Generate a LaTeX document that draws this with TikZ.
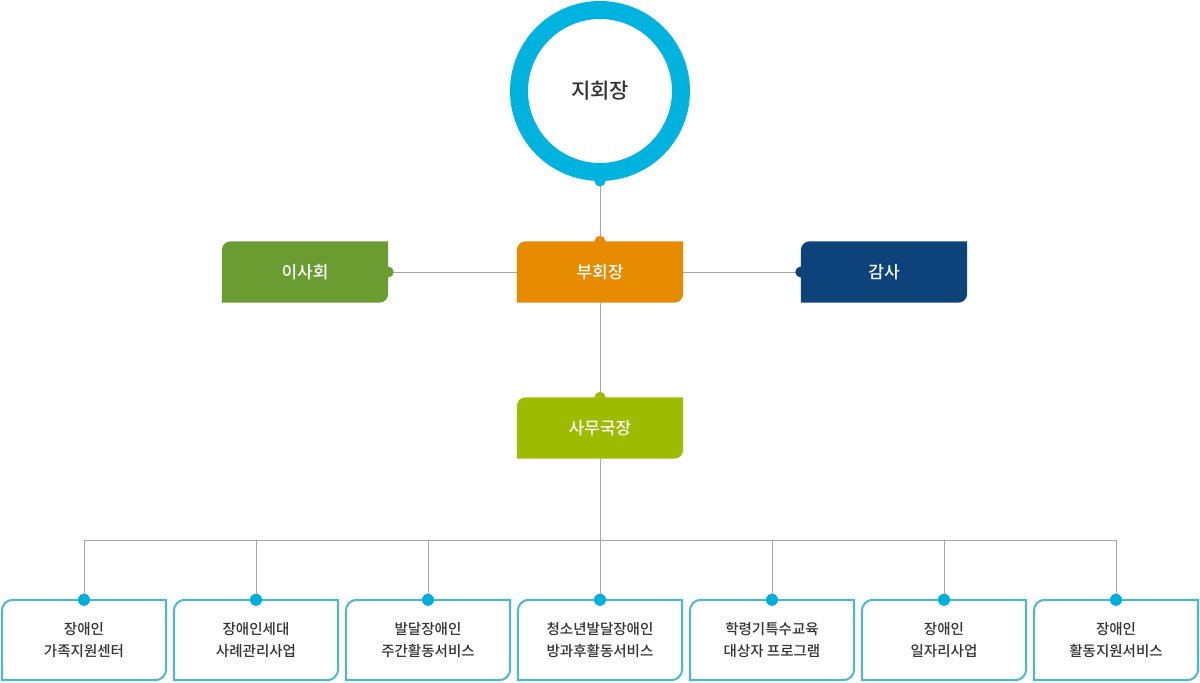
\documentclass[tikz,border=0pt]{standalone}
\usepackage{fontspec}
\usepackage{tikz}
\usetikzlibrary{backgrounds}
\newfontfamily\kr{Noto Sans CJK KR Medium}
\newfontfamily\krbold{Noto Sans CJK KR Bold}
\definecolor{ringblue}{HTML}{00B3DE}
\definecolor{dotblue}{HTML}{00B0DC}
\definecolor{boxline}{HTML}{4BB8D2}
\definecolor{vicecol}{HTML}{E68A00}
\definecolor{boardcol}{HTML}{6A9C31}
\definecolor{auditcol}{HTML}{0D437A}
\definecolor{officecol}{HTML}{9DBC00}
\definecolor{linkgray}{HTML}{A6A6A6}
\definecolor{textgray}{HTML}{333333}

% box with rounded top left and bottom right corners (#3 radius, #4 handle)
\newcommand{\leafbox}[4]{%
  \path[#2] ([yshift=-#3]#1.north west) .. controls ([yshift=-#4]#1.north west) and ([xshift=#4]#1.north west) .. ([xshift=#3]#1.north west)
    -- (#1.north east) -- ([yshift=#3]#1.south east) .. controls ([yshift=#4]#1.south east) and ([xshift=-#4]#1.south east) .. ([xshift=-#3]#1.south east)
    -- (#1.south west) -- cycle;}

\begin{document}
\begin{tikzpicture}[x=1pt,y=-1pt,
    head/.style={minimum width=166pt, minimum height=61pt, inner sep=0pt,
      text=white, font=\kr\fontsize{17}{20}\selectfont},
    unit/.style={minimum width=164pt, minimum height=80pt, inner sep=0pt, align=center,
      text=textgray, font=\kr\fontsize{14.5}{22}\selectfont},
    link/.style={linkgray, line width=1pt}]
  \useasboundingbox (0,0) rectangle (1200,683);

  % chief
  \node[circle, draw=ringblue, line width=18pt, minimum size=162pt, inner sep=0pt,
    text=textgray, font=\kr\fontsize{21}{24}\selectfont] (chief) at (600,91) {지회장};

  % second row
  \node[head] (board) at (305,272) {이사회};
  \node[head] (vice) at (600,272) {부회장};
  \node[head] (audit) at (884,272) {감사};

  % office
  \node[head] (office) at (600,428) {사무국장};
  \coordinate (bus) at (600,540);

  % programmes
  \foreach \name [count=\i from 0] in {장애인\\가족지원센터, 장애인세대\\사례관리사업,
      발달장애인\\주간활동서비스, 청소년발달장애인\\방과후활동서비스,
      학령기특수교육\\대상자 프로그램, 장애인\\일자리사업, 장애인\\활동지원서비스} {
    \node[unit] (b\i) at (84+172*\i,640) {\name};
  }

  \begin{scope}[on background layer]
    \draw[link] (chief.south) -- (vice.north);
    \draw[link] (board.east) -- (vice.west);
    \draw[link] (vice.east) -- (audit.west);
    \draw[link] (vice.south) -- (office.north);
    \draw[link] (office.south) -- (bus);
    \foreach \i in {0,...,6} {
      \draw[link] (b\i.north) |- (bus);
    }
    \leafbox{board}{fill=boardcol}{9pt}{4pt}
    \leafbox{vice}{fill=vicecol}{9pt}{4pt}
    \leafbox{audit}{fill=auditcol}{9pt}{4pt}
    \leafbox{office}{fill=officecol}{9pt}{4pt}
    \foreach \i in {0,...,6} {
      \leafbox{b\i}{fill=white, draw=boxline, line width=2pt}{11pt}{5pt}
    }
  \end{scope}

  % dots
  \fill[ringblue] (chief.south) circle (5.5pt);
  \fill[vicecol] (vice.north) circle (5.5pt);
  \fill[boardcol] (board.east) circle (5.5pt);
  \fill[auditcol] (audit.west) circle (5.5pt);
  \fill[officecol] (office.north) circle (5.5pt);
  \foreach \i in {0,...,6} {
    \fill[dotblue] (b\i.north) circle (6pt);
  }
\end{tikzpicture}
\end{document}
